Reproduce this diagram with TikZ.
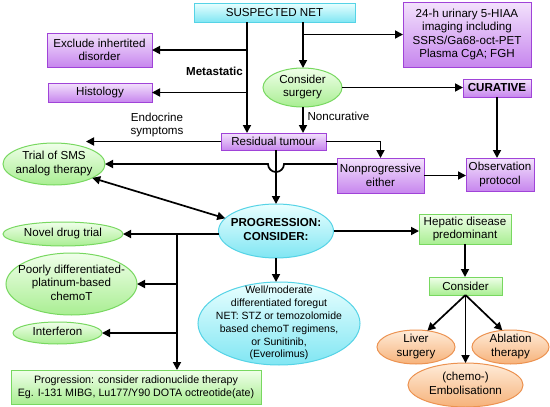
\documentclass[tikz,border=0pt]{standalone}
\usepackage{fontspec}
\setmainfont{Liberation Sans}
\usetikzlibrary{shapes.geometric,arrows.meta}
\definecolor{pT}{HTML}{F3E2FC}
\definecolor{pD}{HTML}{C786EE}
\definecolor{pB}{HTML}{A043D8}
\definecolor{cT}{HTML}{E9FFFF}
\definecolor{cD}{HTML}{80E6F3}
\definecolor{cB}{HTML}{55D3E6}
\definecolor{gT}{HTML}{F0FFEA}
\definecolor{gD}{HTML}{A9EE92}
\definecolor{gB}{HTML}{78D860}
\definecolor{oT}{HTML}{FFECD9}
\definecolor{oD}{HTML}{F6B27A}
\definecolor{oB}{HTML}{EC9250}
\newcommand{\fsA}{\fontsize{11.6}{13.5}\selectfont}
\newcommand{\fsB}{\fontsize{10.5}{12.8}\selectfont}
\newcommand{\fsR}{\fontsize{10.7}{13.5}\selectfont}
\newcommand{\ztext}[1]{\smash{\makebox[0pt]{\raisebox{-0.25em}{\begin{tabular}{@{}c@{}}#1\end{tabular}}}}}
\tikzset{
  >={Triangle[length=8pt,width=8pt]},
  base/.style={inner sep=0pt, outer sep=0pt, align=center, font=\fsA, text=black},
  pbox/.style={base, rectangle, draw=pB, line width=1pt, top color=pT, bottom color=pD},
  cbox/.style={base, rectangle, draw=cB, line width=1pt, top color=cT, bottom color=cD},
  gbox/.style={base, rectangle, draw=gB, line width=1pt, top color=gT, bottom color=gD},
  gell/.style={base, ellipse, draw=gB, line width=1pt, top color=gT, bottom color=gD},
  cell/.style={base, ellipse, draw=cB, line width=1pt, top color=cT, bottom color=cD},
  oell/.style={base, ellipse, draw=oB, line width=1pt, top color=oT, bottom color=oD},
  lbl/.style={base},
  arr/.style={line width=1.7pt, ->},
  arrb/.style={line width=1.7pt, <->},
}
\begin{document}
\begin{tikzpicture}[x=1pt,y=-1pt]
\fill[white] (0,0) rectangle (550,407);
\useasboundingbox (0,0) rectangle (550,407);

% boxes
\node[cbox, minimum width=161, minimum height=19] (net) at (274.5,12.5) {SUSPECTED NET};
\node[pbox, minimum width=105, minimum height=34] (excl) at (99.5,50) {Exclude inhertited\\disorder};
\node[pbox, minimum width=104, minimum height=19] (hist) at (100,92.5) {Histology};
\node[pbox, minimum width=128, minimum height=65] (hiaa) at (467,34.5) {24-h urinary 5-HIAA\\imaging including\\SSRS/Ga68-oct-PET\\Plasma CgA; FGH};
\node[gell, minimum width=79, minimum height=39] (surg) at (302.5,87.5) {\ztext{Consider\\surgery}};
\node[pbox, minimum width=68, minimum height=18, font=\fsA\bfseries] (cur) at (497,88) {CURATIVE};
\node[pbox, minimum width=105, minimum height=17] (res) at (273.5,141.5) {Residual tumour};
\node[pbox, minimum width=87, minimum height=35] (nonp) at (380.5,175.5) {Nonprogressive\\either};
\node[pbox, minimum width=68, minimum height=33] (obs) at (500,174.5) {Observation\\protocol};
\node[gell, minimum width=102, minimum height=42] (trial) at (54,164) {\ztext{Trial of SMS\\analog therapy}};
\node[cell, minimum width=115, minimum height=54, font=\fsA\bfseries] (prog) at (276,231) {\ztext{PROGRESSION:\\CONSIDER:}};
\node[gbox, minimum width=92, minimum height=30] (hep) at (465,229) {Hepatic disease\\predominant};
\node[gbox, minimum width=73, minimum height=18] (cons) at (465.5,286) {Consider};
\node[oell, minimum width=78, minimum height=34] (liver) at (416,347) {\ztext{Liver\\surgery}};
\node[oell, minimum width=77, minimum height=34] (abl) at (510.5,347) {\ztext{Ablation\\therapy}};
\node[oell, minimum width=115, minimum height=44] (emb) at (465.5,385) {\ztext{(chemo-)\\Embolisationn}};
\node[gell, minimum width=120, minimum height=24] (novel) at (63,234) {\ztext{Novel drug trial}};
\node[gell, minimum width=131, minimum height=62] (poor) at (71.5,284) {\ztext{Poorly differentiated-\\platinum-based\\chemoT}};
\node[gell, minimum width=89, minimum height=22] (interf) at (57.5,333) {\ztext{Interferon}};
\node[cell, minimum width=162, minimum height=83, font=\fsB] (well) at (279,323.5) {\ztext{Well/moderate\\differentiated foregut\\NET: STZ or temozolomide\\based chemoT regimens,\\or Sunitinib,\\(Everolimus)}};
\node[gbox, minimum width=250, minimum height=34, font=\fsR] (radio) at (136,387) {Progression: consider radionuclide therapy\\Eg. I-131 MIBG, Lu177/Y90 DOTA octreotide(ate)};

% labels
\node[lbl, font=\fsA\bfseries] (lmet) at (214.5,71) {Metastatic};
\node[lbl] (lnon) at (338.5,116) {Noncurative};
\node[lbl] (lendo) at (157,125) {Endocrine\\symptoms};

% helper coordinates
\coordinate (mx) at (247,0);
\coordinate (sx) at (303,0);
\coordinate (endo) at (86,141.5);
\coordinate (jl) at (177,234);
\coordinate (hopR) at (284,164);

% connectors
\draw[arr] (net.south -| mx) -- (res.north -| mx);
\draw[arr] (excl.east -| mx) -- (excl.east);
\draw[arr] (hist.east -| mx) -- (hist.east);
\draw[arr] (net.south -| sx) -- (surg.north -| sx);
\draw[arr] (hiaa.west -| sx) -- (hiaa.west);
\draw[arr] (surg.east) -- (surg.east -| cur.west);
\draw[arr] (surg.south -| sx) -- (res.north -| sx);
\draw[arr] (res.west) -- (endo);
\draw[arr] (res.east) -| (nonp.north);
\draw[arr] (res.south -| prog.north) -- (prog.north);
\draw[arr] (cur.south) -- (cur.south |- obs.north);
\draw[arr] (nonp.east) -- (nonp.east -| obs.west);
\draw[arr] ([yshift=11.5pt]nonp.west) -- (hopR) arc[start angle=0, end angle=180, radius=8] -- (trial.east);
\draw[arrb] (trial.-20) -- (prog.166);
\draw[arr] (prog.west |- novel.east) -- (novel.east);
\draw[arr] (jl) -- (jl |- radio.north);
\draw[arr] (jl |- poor.east) -- (poor.east);
\draw[arr] (jl |- interf.east) -- (interf.east);
\draw[arr] (prog.south) -- (prog.south |- well.north);
\draw[arr] (prog.east) -- (prog.east -| hep.west);
\draw[arr] (hep.south) -- (hep.south |- cons.north);
\draw[arr] (cons.south) -- (liver.55);
\draw[arr] (cons.south) -- (cons.south |- emb.north);
\draw[arr] (cons.south) -- (abl.116);
\end{tikzpicture}
\end{document}
